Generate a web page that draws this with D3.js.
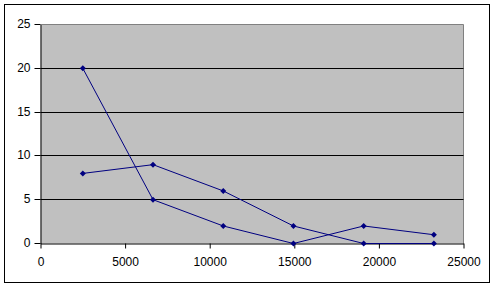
<!DOCTYPE html>
<html>
<head>
<meta charset="utf-8">
<script src="https://cdn.jsdelivr.net/npm/d3@7"></script>
<style>
  html, body { margin: 0; padding: 0; background: #fff; }
  svg { display: block; }
  .tick text { font-family: Arial, "Liberation Sans", sans-serif; font-size: 12px; fill: #000; }
</style>
</head>
<body>
<svg class="chart"></svg>
<script>
'use strict';

// data
var xValues = [2500, 6650, 10800, 14950, 19100, 23250];
var seriesA = [20, 5, 2, 0, 2, 1];
var seriesB = [8, 9, 6, 2, 0, 0];
var xTicks = [0, 5000, 10000, 15000, 20000, 25000];
var yTicks = [0, 5, 10, 15, 20, 25];

var svgWidth = 496,
    svgHeight = 287,
    plot = { left: 40, right: 463, top: 24, bottom: 243 };

var svg = d3.select('svg.chart')
    .attr('width', svgWidth)
    .attr('height', svgHeight);

// outer chart frame
svg.append('rect')
    .attr('x', 4.5).attr('y', 4.5)
    .attr('width', 485).attr('height', 278)
    .attr('fill', '#fff')
    .attr('stroke', '#000')
    .attr('stroke-width', 1);

var xScale = d3.scaleLinear().domain([0, 25000]).range([plot.left, plot.right]);
var yScale = d3.scaleLinear().domain([0, 25]).range([plot.bottom, plot.top]);

var g = svg.append('g').attr('transform', 'translate(0.5,0.5)');

// plot area
g.append('rect')
    .attr('x', plot.left).attr('y', plot.top)
    .attr('width', plot.right - plot.left)
    .attr('height', plot.bottom - plot.top)
    .attr('fill', '#c0c0c0');

// top and right border in grey
g.append('path')
    .attr('d', 'M' + plot.left + ',' + plot.top + 'H' + plot.right + 'V' + plot.bottom)
    .attr('fill', 'none')
    .attr('stroke', '#808080');

// gridlines
g.append('g').selectAll('line')
    .data(yTicks.filter(function(d) { return d > 0 && d < 25; }))
    .enter()
    .append('line')
    .attr('x1', plot.left).attr('x2', plot.right)
    .attr('y1', function(d) { return Math.round(yScale(d)); })
    .attr('y2', function(d) { return Math.round(yScale(d)); })
    .attr('stroke', '#000');

var fmt = d3.format('d');
var yAxis = d3.axisLeft(yScale).tickValues(yTicks).tickFormat(fmt)
    .tickSize(6).tickSizeOuter(0).tickPadding(4);
var xAxis = d3.axisBottom(xScale).tickValues(xTicks).tickFormat(fmt)
    .tickSize(5).tickSizeOuter(0).tickPadding(9);

var yG = g.append('g').attr('transform', 'translate(' + plot.left + ',0)').call(yAxis);
var xG = g.append('g').attr('transform', 'translate(0,' + plot.bottom + ')').call(xAxis);
[yG, xG].forEach(function(ax) {
    ax.select('.domain').attr('stroke', '#000');
    ax.selectAll('.tick line').attr('stroke', '#000');
    ax.attr('font-family', null).attr('font-size', null);
});
yG.selectAll('.tick').attr('transform', function(d) {
    return 'translate(0,' + Math.round(yScale(d)) + ')';
});

var line = d3.line()
    .x(function(d) { return xScale(d.x); })
    .y(function(d) { return yScale(d.y); });

var marker = d3.symbol().type(d3.symbolSquare).size(18);

[seriesA, seriesB].forEach(function(values) {
    var pts = xValues.map(function(x, i) { return { x: x, y: values[i] }; });
    g.append('path')
        .attr('d', line(pts))
        .attr('fill', 'none')
        .attr('stroke', '#000080')
        .attr('stroke-width', 1);
    g.append('g').selectAll('path')
        .data(pts)
        .enter()
        .append('path')
        .attr('d', marker)
        .attr('transform', function(d) {
            return 'translate(' + xScale(d.x) + ',' + yScale(d.y) + ') rotate(45)';
        })
        .attr('fill', '#000080');
});
</script>
</body>
</html>
